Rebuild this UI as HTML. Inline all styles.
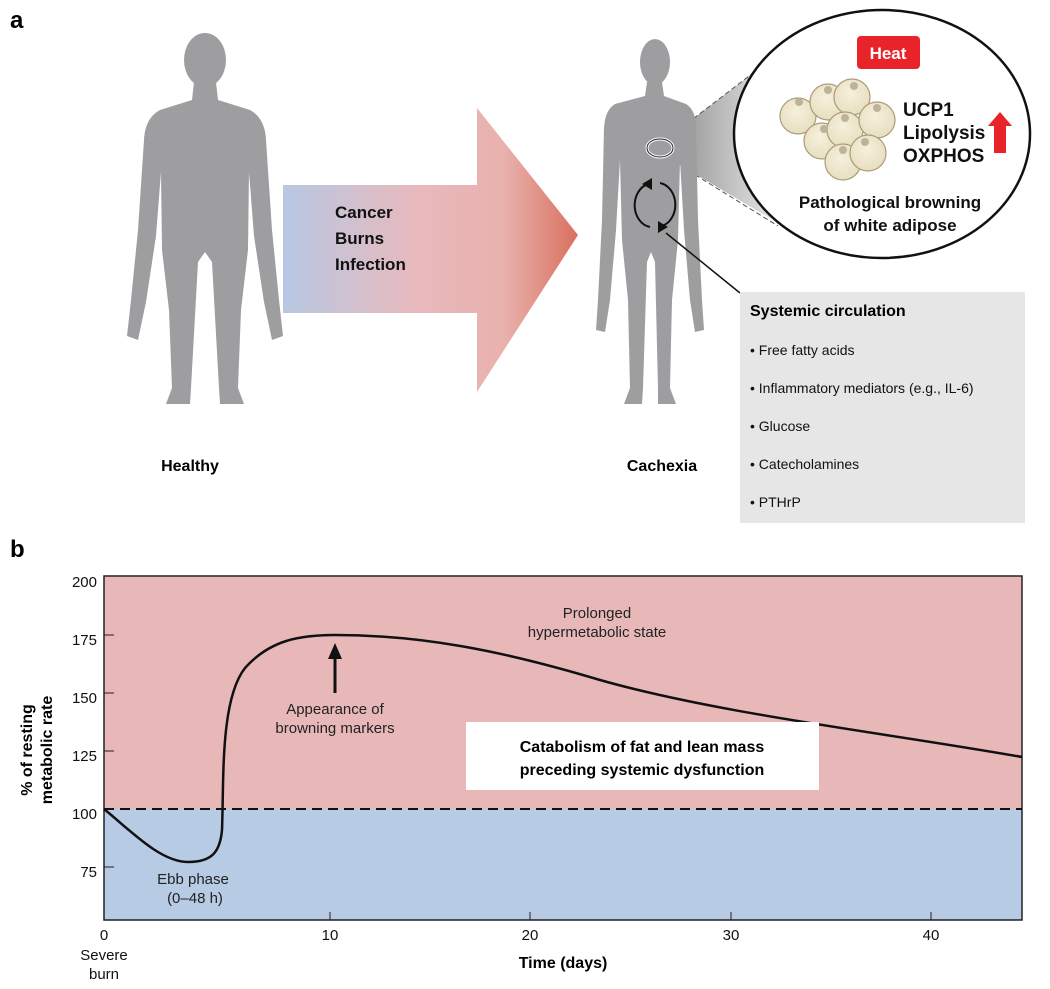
<!DOCTYPE html>
<html><head><meta charset="utf-8">
<style>
html,body{margin:0;padding:0;background:#fff;}
svg{display:block;}
text{font-family:"Liberation Sans",sans-serif;}
</style></head>
<body>
<svg width="1050" height="989" viewBox="0 0 1050 989" xmlns="http://www.w3.org/2000/svg">
<defs>
<linearGradient id="arr" x1="0" x2="1" y1="0" y2="0">
<stop offset="0" stop-color="#b7c8e3"/>
<stop offset="0.45" stop-color="#e8b9bd"/>
<stop offset="0.75" stop-color="#e9b1ad"/>
<stop offset="1" stop-color="#d9705e"/>
</linearGradient>
<linearGradient id="cone" x1="0" x2="1" y1="0" y2="0">
<stop offset="0" stop-color="#8e8e90"/>
<stop offset="1" stop-color="#f2f2f2"/>
</linearGradient>
<radialGradient id="cell" cx="0.45" cy="0.4" r="0.6">
<stop offset="0" stop-color="#f6f0dc"/>
<stop offset="1" stop-color="#e8dfc0"/>
</radialGradient>
</defs>

<text x="10" y="28" font-size="24" font-weight="bold">a</text>
<text x="10" y="557" font-size="24" font-weight="bold">b</text>

<g fill="#9e9ea0">
<ellipse cx="205" cy="60" rx="21" ry="27"/>
<path d="M194,82 L216,82 L218,100 L250,110 Q265,118 266,140 L272,230 L279,300 L283,336 L272,340 L264,302 L254,236 L249,172 L248,250 L241,310 L238,388 L244,404 L220,404 L219,388 L212,262 L205,252 L198,262 L191,388 L190,404 L166,404 L172,388 L169,310 L162,250 L161,172 L156,236 L146,302 L138,340 L127,336 L131,300 L138,230 L144,140 Q145,118 160,110 L192,100 Z"/>
</g>

<path d="M283,185 L477,185 L477,108 L578,235 L477,392 L477,313 L283,313 Z" fill="url(#arr)"/>
<text font-size="17" font-weight="bold" fill="#111"><tspan x="335" y="218">Cancer</tspan><tspan x="335" y="244">Burns</tspan><tspan x="335" y="270">Infection</tspan></text>

<path d="M668,138 L770,60 L790,230 L668,158 Z" fill="url(#cone)"/>
<line x1="668" y1="138" x2="770" y2="60" stroke="#555" stroke-dasharray="5,3"/>
<line x1="668" y1="158" x2="778" y2="226" stroke="#555" stroke-dasharray="5,3"/>

<g fill="#9e9ea0">
<ellipse cx="655" cy="62" rx="15" ry="23"/>
<path d="M647,82 L662,82 L664,96 L686,104 Q696,110 696,128 L698,220 L702,300 L704,330 L695,332 L690,300 L684,230 L680,160 L678,240 L672,300 L670,388 L676,404 L658,404 L658,388 L655,262 L651,252 L647,262 L643,388 L642,404 L624,404 L630,388 L628,300 L622,240 L620,160 L616,230 L610,300 L605,332 L596,330 L598,300 L602,220 L604,128 Q605,110 615,104 L645,96 Z"/>
</g>
<ellipse cx="660" cy="148" rx="13" ry="9" fill="none" stroke="#fff" stroke-width="3"/>
<ellipse cx="660" cy="148" rx="13" ry="9" fill="none" stroke="#222" stroke-width="1"/>
<g fill="none" stroke="#111" stroke-width="2">
<path d="M648,184 A18,22 0 0 0 650,227"/>
<path d="M662,226 A18,22 0 0 0 660,183"/>
</g>
<path d="M642,184 L652,178 L652,190 Z" fill="#111"/>
<path d="M668,227 L658,221 L658,233 Z" fill="#111"/>
<line x1="666" y1="233" x2="740" y2="293" stroke="#111" stroke-width="1.5"/>

<ellipse cx="882" cy="134" rx="148" ry="124" fill="#fff" stroke="#111" stroke-width="2.5"/>
<rect x="857" y="36" width="63" height="33" rx="4" fill="#e8242a"/>
<text x="888" y="59" font-size="17" font-weight="bold" fill="#fff" text-anchor="middle">Heat</text>
<g stroke="#a99c78" stroke-width="1.2" fill="url(#cell)">
<circle cx="798" cy="116" r="18"/>
<circle cx="828" cy="102" r="18"/>
<circle cx="852" cy="97" r="18"/>
<circle cx="822" cy="141" r="18"/>
<circle cx="845" cy="130" r="18"/>
<circle cx="877" cy="120" r="18"/>
<circle cx="843" cy="162" r="18"/>
<circle cx="868" cy="153" r="18"/>
</g>
<g fill="#bdb39a">
<circle cx="799" cy="102" r="4"/><circle cx="828" cy="90" r="4"/><circle cx="854" cy="86" r="4"/>
<circle cx="877" cy="108" r="4"/><circle cx="845" cy="118" r="4"/><circle cx="824" cy="129" r="4"/>
<circle cx="865" cy="142" r="4"/><circle cx="843" cy="150" r="4"/>
</g>
<text font-size="19" font-weight="bold" fill="#111"><tspan x="903" y="116">UCP1</tspan><tspan x="903" y="139">Lipolysis</tspan><tspan x="903" y="162">OXPHOS</tspan></text>
<path d="M994,153 L994,126 L988,126 L1000,112 L1012,126 L1006,126 L1006,153 Z" fill="#e8242a"/>
<text font-size="17" font-weight="bold" fill="#111" text-anchor="middle"><tspan x="890" y="208">Pathological browning</tspan><tspan x="890" y="231">of white adipose</tspan></text>

<text x="190" y="471" font-size="16" font-weight="bold" text-anchor="middle">Healthy</text>
<text x="662" y="471" font-size="16" font-weight="bold" text-anchor="middle">Cachexia</text>

<rect x="740" y="292" width="285" height="231" fill="#e6e6e6"/>
<text x="750" y="316" font-size="16" font-weight="bold">Systemic circulation</text>
<g font-size="14" fill="#111">
<text x="750" y="355">• Free fatty acids</text>
<text x="750" y="393">• Inflammatory mediators (e.g., IL-6)</text>
<text x="750" y="431">• Glucose</text>
<text x="750" y="469">• Catecholamines</text>
<text x="750" y="507">• PTHrP</text>
</g>

<rect x="104" y="576" width="918" height="233" fill="#e8b8b9"/>
<rect x="104" y="809" width="918" height="111" fill="#b8cbe4"/>
<rect x="104" y="576" width="918" height="344" fill="none" stroke="#222" stroke-width="1.5"/>
<line x1="104" y1="809" x2="1022" y2="809" stroke="#111" stroke-width="2" stroke-dasharray="10,6"/>
<g stroke="#222" stroke-width="1">
<line x1="104" y1="635" x2="114" y2="635"/><line x1="104" y1="693" x2="114" y2="693"/>
<line x1="104" y1="751" x2="114" y2="751"/><line x1="104" y1="867" x2="114" y2="867"/>
<line x1="330" y1="920" x2="330" y2="912"/><line x1="530" y1="920" x2="530" y2="912"/>
<line x1="731" y1="920" x2="731" y2="912"/><line x1="931" y1="920" x2="931" y2="912"/>
</g>
<g font-size="15" fill="#111" text-anchor="end">
<text x="97" y="587">200</text><text x="97" y="645">175</text><text x="97" y="703">150</text>
<text x="97" y="761">125</text><text x="97" y="819">100</text><text x="97" y="877">75</text>
</g>
<g font-size="15" fill="#111" text-anchor="middle">
<text x="104" y="940">0</text><text x="330" y="940">10</text><text x="530" y="940">20</text>
<text x="731" y="940">30</text><text x="931" y="940">40</text>
<text x="104" y="960">Severe</text><text x="104" y="979">burn</text>
</g>
<text x="563" y="968" font-size="16" font-weight="bold" text-anchor="middle">Time (days)</text>
<text transform="translate(32,750) rotate(-90)" font-size="16" font-weight="bold" text-anchor="middle"><tspan x="0" y="0">% of resting</tspan><tspan x="0" y="20">metabolic rate</tspan></text>

<path d="M104,809 C130,830 160,862 188,862 C212,862 220,852 222,830 C224,780 220,700 245,668 C270,640 300,635 335,635 C420,635 500,650 600,680 C720,714 880,732 1022,757" fill="none" stroke="#111" stroke-width="2.5"/>
<line x1="335" y1="693" x2="335" y2="655" stroke="#111" stroke-width="3"/>
<path d="M328,659 L335,643 L342,659 Z" fill="#111"/>
<g font-size="15" fill="#222" text-anchor="middle">
<text x="335" y="714">Appearance of</text><text x="335" y="733">browning markers</text>
<text x="597" y="618">Prolonged</text><text x="597" y="637">hypermetabolic state</text>
<text x="193" y="884">Ebb phase</text><text x="195" y="903">(0–48 h)</text>
</g>
<rect x="466" y="722" width="353" height="68" fill="#fff"/>
<g font-size="16" font-weight="bold" text-anchor="middle">
<text x="642" y="752">Catabolism of fat and lean mass</text>
<text x="642" y="775">preceding systemic dysfunction</text>
</g>
</svg>
</body></html>
